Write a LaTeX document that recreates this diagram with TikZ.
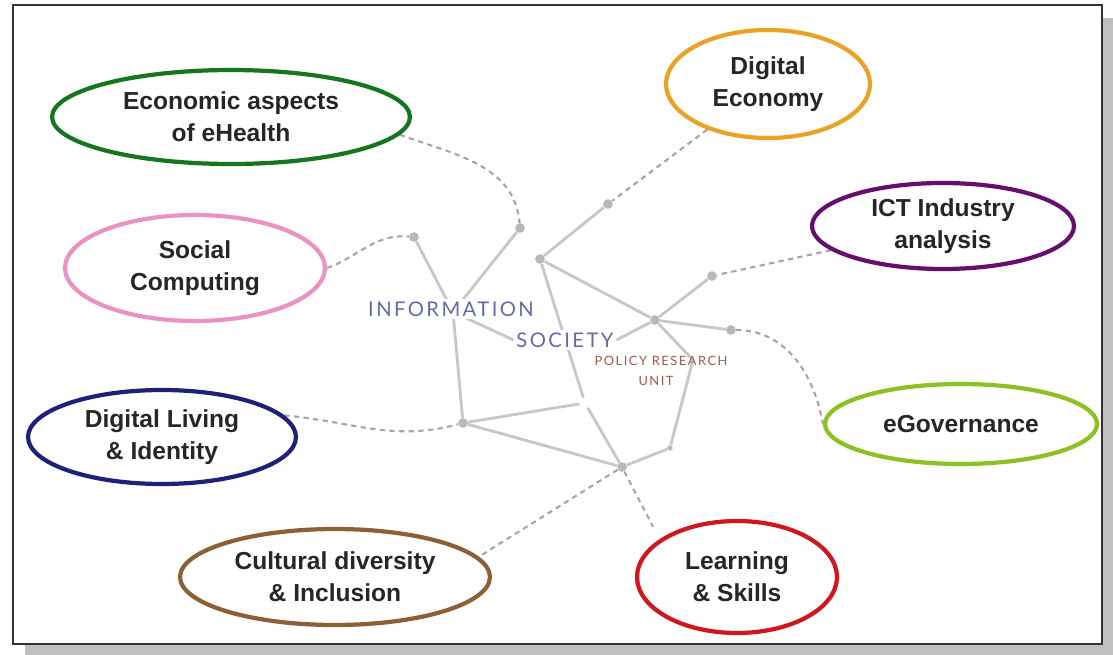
\documentclass[tikz,border=0pt]{standalone}
\usepackage{fontspec}
\setmainfont{Liberation Sans}
\newfontfamily\capsfont[LetterSpace=12]{Lato}
\usetikzlibrary{shapes.geometric,backgrounds}
\definecolor{ehgreen}{RGB}{22,118,32}
\definecolor{ecorange}{RGB}{232,162,36}
\definecolor{ictpurple}{RGB}{102,14,110}
\definecolor{scpink}{RGB}{234,146,196}
\definecolor{govgreen}{RGB}{140,192,36}
\definecolor{dlnavy}{RGB}{32,32,120}
\definecolor{cdbrown}{RGB}{140,96,52}
\definecolor{lsred}{RGB}{208,22,30}
\definecolor{isblue}{RGB}{100,106,168}
\definecolor{prured}{RGB}{162,86,80}

\begin{document}
\begin{tikzpicture}[x=0.02cm,y=-0.02cm,
    topic/.style={ellipse,draw=#1,line width=2.4pt,fill=white,inner sep=0pt,align=center,
      text=black!85,font=\bfseries\fontsize{14}{18}\selectfont},
    hub/.style={circle,fill=black!28,inner sep=0pt,minimum size=5.5pt},
    rib/.style={draw=black!22,line width=1.6pt},
    dashline/.style={draw=black!35,line width=1.2pt,dash pattern=on 3pt off 2.5pt}]
  \useasboundingbox (0,0) rectangle (1113,655);

  % topics
  \node[topic=ehgreen,minimum width=7.16cm,minimum height=1.88cm] (eco) at (231,117) {Economic aspects\\of eHealth};
  \node[topic=ecorange,minimum width=4.08cm,minimum height=2.16cm] (deco) at (768,84) {Digital\\Economy};
  \node[topic=ictpurple,minimum width=5.24cm,minimum height=1.72cm] (ict) at (943,226) {ICT Industry\\analysis};
  \node[topic=scpink,minimum width=5.2cm,minimum height=2.12cm] (sc) at (195,268) {Social\\Computing};
  \node[topic=govgreen,minimum width=5.44cm,minimum height=1.6cm] (egov) at (961,424) {eGovernance};
  \node[topic=dlnavy,minimum width=5.36cm,minimum height=1.88cm] (dl) at (162,437) {Digital Living\\\& Identity};
  \node[topic=cdbrown,minimum width=6.2cm,minimum height=1.92cm] (cd) at (335,577) {Cultural diversity\\\& Inclusion};
  \node[topic=lsred,minimum width=4cm,minimum height=2.24cm] (ls) at (737,577) {Learning\\\& Skills};

  % the logo net
  \node[hub] (a) at (520,228) {};
  \node[hub] (b) at (608,204) {};
  \node[hub] (c) at (414,237) {};
  \node[hub] (d) at (540,259) {};
  \node[hub] (e) at (655,320) {};
  \node[hub] (f) at (712,276) {};
  \node[hub] (g) at (731,330) {};
  \node[hub] (h) at (463,423) {};
  \node[hub] (i) at (622,467) {};
  \node[hub,minimum size=3pt] (j) at (670,448) {};
  \node[circle,inner sep=0pt,minimum size=6pt] (k) at (585,403) {};
  \coordinate (j0) at (453,312);
  \coordinate (m) at (693,360);

  \node[font=\capsfont\fontsize{11.5}{13}\selectfont,text=isblue,fill=white,inner sep=1.5pt] (info) at (451,309) {INFORMATION};
  \node[font=\capsfont\fontsize{11.5}{13}\selectfont,text=isblue,fill=white,inner sep=1.5pt] (soci) at (565,340) {SOCIETY};
  \node[font=\capsfont\fontsize{7.3}{9}\selectfont,text=prured,inner sep=0pt] (pru) at (661,361) {POLICY RESEARCH};
  \node[font=\capsfont\fontsize{7.3}{9}\selectfont,text=prured,inner sep=0pt] (unit) at (656,381) {UNIT};

  \begin{scope}[on background layer]
    \fill[black!25] (25,18) rectangle (1113,655);
    \draw[fill=white,draw=black!80,line width=1.2pt] (13,5) rectangle (1102,644);
    \foreach \p/\q in {c/j0,a/j0,j0/h,d/b,d/e,d/k,e/f,e/g,h/k,h/i,k/i,j/i}
      \draw[rib] (\p) -- (\q);
    \draw[rib] (j0) -- (soci.west);
    \draw[rib] (e) -- (soci.east);
    \draw[rib] (e) -- (m) -- (j);

    \draw[dashline] (eco.-6) to[out=-20,in=95] (a);
    \draw[dashline] (deco) -- (b);
    \draw[dashline] (sc.east) to[out=20,in=175] (c);
    \draw[dashline] (ict) -- (f);
    \draw[dashline] (g) to[out=0,in=100] (egov.west);
    \draw[dashline] (dl.10) to[out=-5,in=195] (h);
    \draw[dashline] (i) -- (cd.8);
    \draw[dashline,shorten >=8pt] (i) -- (ls.154);
  \end{scope}
\end{tikzpicture}
\end{document}
